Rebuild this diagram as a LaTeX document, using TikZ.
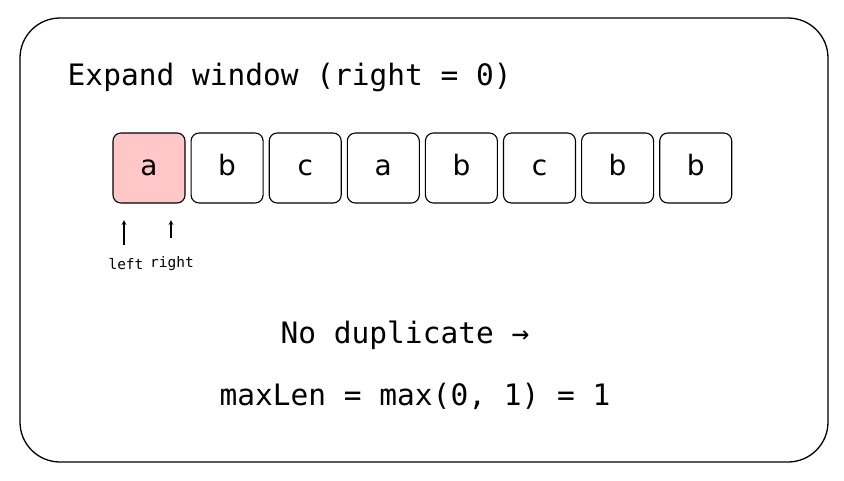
\documentclass[tikz,border=0pt]{standalone}
\usepackage{fontspec}
\setmainfont{DejaVu Sans}
\newfontfamily\monofont{DejaVu Sans Mono}
\usetikzlibrary{positioning}

\begin{document}
\begin{tikzpicture}[x=1pt, y=-1pt, thick]
    \tikzset{
      cell/.style={draw, rounded corners=8pt, minimum width=72pt, minimum height=70pt, inner sep=0pt, text height=15pt, text depth=0pt, font=\fontsize{28}{30}\selectfont, line width=1.1pt},
      hot/.style={cell, fill=red!22},
      mono/.style={font=\monofont\fontsize{29.5}{32}\selectfont},
      small/.style={font=\monofont\fontsize{14.5}{16}\selectfont},
      ptr/.style={->, >=stealth, line width=1.2pt}
    }
    \useasboundingbox (0,0) rectangle (844,480);
    \draw[line width=1.3pt, rounded corners=40pt] (20,18) rectangle (828,462);

    \node[mono, anchor=west] (title) at (64,77) {Expand window (right = 0)};

    \node[hot] (c1) at (149,168) {a};
    \foreach \txt [count=\i from 2] in {b,c,a,b,c,b,b} {
      \pgfmathtruncatemacro{\prev}{\i-1}
      \node[cell, right=5pt of c\prev] (c\i) {\txt};
    }

    \coordinate (lefttip) at (124,220);
    \coordinate (righttip) at (171,220);
    \node[small] (leftlbl) at (126,264) {left};
    \node[small] (rightlbl) at (172,264) {right};
    \draw[ptr] (124,245) -- (lefttip);
    \draw[ptr] (171,238) -- (righttip);

    \node[mono] (nodup) at (405,335) {No duplicate →};
    \node[mono] (maxlen) at (415,396) {maxLen = max(0, 1) = 1};
\end{tikzpicture}
\end{document}
